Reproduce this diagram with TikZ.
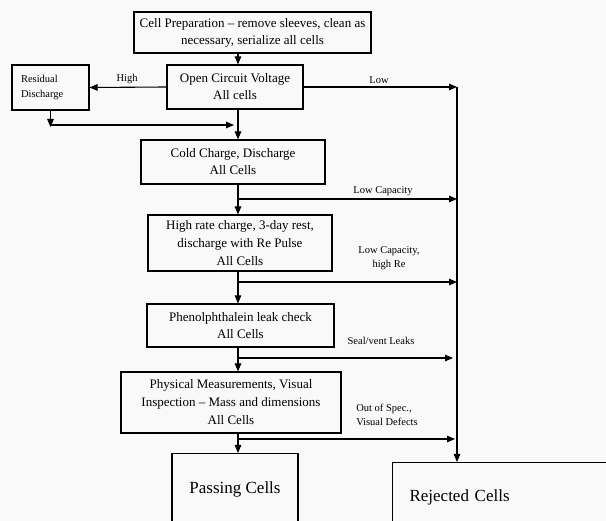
\documentclass[tikz,border=0pt]{standalone}
\usepackage{fontspec}
\setmainfont{Liberation Serif}
\usetikzlibrary{arrows.meta}
\begin{document}
\begin{tikzpicture}[x=1pt,y=-1pt,
  box/.style={draw,line width=1.1pt,align=center,inner sep=0pt,font=\fontsize{13}{17}\selectfont},
  lbl/.style={font=\fontsize{10.5}{14}\selectfont,inner sep=0pt,align=center},
  arr/.style={line width=1.1pt,-{Triangle[length=8pt,width=6.5pt]}}]
  \fill[gray!5] (0,0) rectangle (606,521);
  \useasboundingbox (0,0) rectangle (606,521);
  \clip (0,0) rectangle (606,521);
  % spine and reject line
  \coordinate (sp) at (238,0);
  \coordinate (rs) at (457,0);
  \node[box,minimum width=237pt,minimum height=41pt] (prep) at (252.5,32.5) {Cell Preparation – remove sleeves, clean as\\necessary, serialize all cells};
  \node[box,minimum width=136pt,minimum height=44pt] (ocv) at (235,87) {Open Circuit Voltage\\All cells};
  \node[box,font=\fontsize{10.5}{15}\selectfont,align=left,inner xsep=9pt,text width=59pt,minimum height=45pt] (res) at (50.5,87.5) {Residual\\Discharge};
  \node[box,minimum width=184pt,minimum height=44pt] (cold) at (233,162) {Cold Charge, Discharge\\All Cells};
  \node[box,minimum width=184pt,minimum height=56pt,font=\fontsize{13}{18}\selectfont,text depth=-5pt] (rate) at (240,243) {High rate charge, 3-day rest,\\discharge with Re Pulse\\All Cells};
  \node[box,minimum width=187pt,minimum height=43pt] (phen) at (240.5,325.5) {Phenolphthalein leak check\\All Cells};
  \node[box,minimum width=220pt,minimum height=61pt,font=\fontsize{13}{18}\selectfont] (phys) at (231,402.5) {Physical Measurements, Visual\\Inspection – Mass and dimensions\\All Cells};
  \node[box,font=\fontsize{17}{20}\selectfont,anchor=north,minimum width=126pt,minimum height=72pt] (pass) at (235,453) {Passing Cells};
  \node[box,font=\fontsize{17}{20}\selectfont,anchor=north west,align=left,inner xsep=17pt,text width=200pt,minimum height=70pt] (rej) at (392,462) {Rejected Cells};
  % branch points
  \coordinate (rj) at (50.5,125);
  \coordinate (b1) at (238,199);
  \coordinate (b2) at (238,282);
  \coordinate (b3) at (238,358);
  \coordinate (b4) at (238,439);
  % main flow
  \draw[arr] (prep.south -| sp) -- (ocv.north -| sp);
  \draw[arr] (ocv.south -| sp) -- (cold.north -| sp);
  \draw[arr] (cold.south -| sp) -- (rate.north -| sp);
  \draw[arr] (rate.south -| sp) -- (phen.north -| sp);
  \draw[arr] (phen.south -| sp) -- (phys.north -| sp);
  \draw[arr] (phys.south -| sp) -- (pass.north -| sp);
  % residual discharge loop
  \draw[arr] (ocv.west) -- (res.east);
  \draw[arr] (res.south) -- ([yshift=-2pt]rj);
  \draw[arr] (rj) -- ([xshift=-4pt]rj -| sp);
  % rejects
  \draw[arr] (ocv.east) -- (ocv.east -| rs);
  \draw[arr] (ocv.east -| rs) -- (rej.north -| rs);
  \draw[arr] (b1) -- (b1 -| rs);
  \draw[arr] (b2) -- (b2 -| rs);
  \draw[arr] ([xshift=-1pt]b3) -- ([xshift=-4pt]b3 -| rs);
  \draw[arr] (b4) -- ([xshift=-2pt]b4 -| rs);
  % labels
  \node[lbl] (hi) at (127,79) {High};
  \node[lbl] (lo) at (379,80) {Low};
  \node[lbl] (l1) at (383,191) {Low Capacity};
  \node[lbl] (l2) at (389,258) {Low Capacity,\\high Re};
  \node[lbl] (l3) at (381,341) {Seal/vent Leaks};
  \node[lbl,align=left] (l4) at (387,415) {Out of Spec.,\\Visual Defects};
\end{tikzpicture}
\end{document}
